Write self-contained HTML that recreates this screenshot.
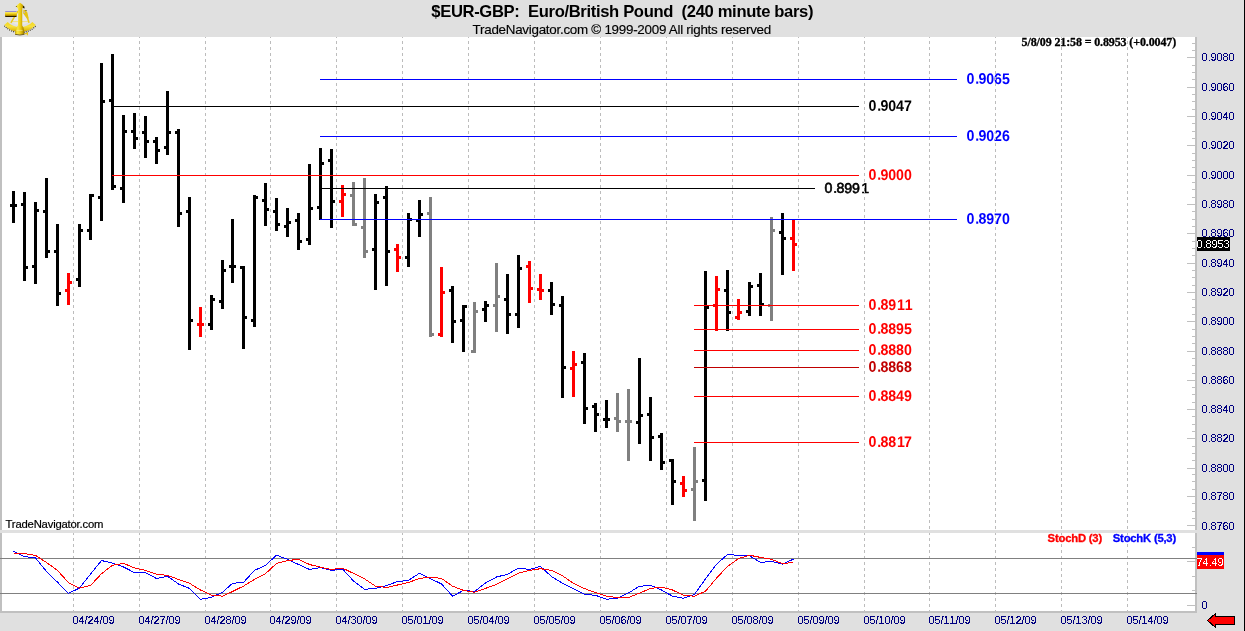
<!DOCTYPE html>
<html lang="en"><head><meta charset="utf-8"><title>$EUR-GBP: Euro/British Pound (240 minute bars)</title>
<style>
html,body{margin:0;padding:0;background:#e0e0e0;}
body{width:1245px;height:631px;overflow:hidden;position:relative;font-family:"Liberation Sans",Arial,sans-serif;}
svg{position:absolute;left:0;top:0;display:block;}
text{font-family:"Liberation Sans",Arial,sans-serif;}
.ce{shape-rendering:crispEdges;}
.ax{font-size:11px;fill:#000080;}
.lv{font-size:14.2px;font-weight:bold;}
</style></head><body>
<svg width="1245" height="631" viewBox="0 0 1245 631">
<defs><filter id="al" x="-2%" y="-20%" width="104%" height="140%" color-interpolation-filters="sRGB"><feComponentTransfer><feFuncA type="discrete" tableValues="0 0 1 1 1"/></feComponentTransfer></filter><filter id="al2" x="-2%" y="-20%" width="104%" height="140%" color-interpolation-filters="sRGB"><feComponentTransfer><feFuncA type="discrete" tableValues="0 1"/></feComponentTransfer></filter></defs>
<rect class="ce" x="0" y="0" width="1245" height="631" fill="#e0e0e0"/>
<g class="ce">
<rect x="0" y="37" width="1197" height="493" fill="#fff"/>
<rect x="0" y="533" width="1197" height="78" fill="#fff"/>
<rect x="0" y="37" width="2" height="493" fill="#c0c0c0"/>
<rect x="0" y="533" width="2" height="80" fill="#c0c0c0"/>
<rect x="1195" y="37" width="2" height="493" fill="#c0c0c0"/>
<rect x="1195" y="533" width="2" height="80" fill="#c0c0c0"/>
<rect x="0" y="611" width="1197" height="2" fill="#c0c0c0"/>
</g>
<g class="lv">
<text x="966.6 975.2 978.6 986.3 994.1 1002.0" y="83.9" fill="#0000ff" transform="matrix(1 0.002 0 1.078 0 -8.519)">0.9065</text>
<text x="868.6 877.2 880.6 888.3 896.1 904.0" y="110.9" fill="#000000" transform="matrix(1 0.002 0 1.078 0 -10.429)">0.9047</text>
<text x="966.6 975.2 978.6 986.3 994.1 1002.0" y="140.9" fill="#0000ff" transform="matrix(1 0.002 0 1.078 0 -12.965)">0.9026</text>
<text x="868.6 877.2 880.6 888.3 896.1 904.0" y="179.9" fill="#ff0000" transform="matrix(1 0.002 0 1.078 0 -15.811)">0.9000</text>
<text x="824.6 833.2 836.6 844.3 852.1 861.2" y="192.9" fill="#000000" stroke="#000000" stroke-width="0.6" font-weight="normal" transform="matrix(1 0.002 0 1.0 0 -1.691)">0.8991</text>
<text x="966.6 975.2 978.6 986.3 994.1 1002.0" y="223.9" fill="#0000ff" transform="matrix(1 0.002 0 1.078 0 -19.439)">0.8970</text>
<text x="868.6 877.2 880.6 888.3 896.9 904.8" y="309.9" fill="#ff0000" transform="matrix(1 0.002 0 1.078 0 -25.951)">0.8911</text>
<text x="868.6 877.2 880.6 888.3 896.1 904.0" y="333.9" fill="#ff0000" transform="matrix(1 0.002 0 1.078 0 -27.823)">0.8895</text>
<text x="868.6 877.2 880.6 888.3 896.1 904.0" y="354.9" fill="#ff0000" transform="matrix(1 0.002 0 1.078 0 -29.461)">0.8880</text>
<text x="868.6 877.2 880.6 888.3 896.1 904.0" y="371.9" fill="#c00000" transform="matrix(1 0.002 0 1.078 0 -30.787)">0.8868</text>
<text x="868.6 877.2 880.6 888.3 896.1 904.0" y="400.9" fill="#ff0000" transform="matrix(1 0.002 0 1.078 0 -33.049)">0.8849</text>
<text x="868.6 877.2 880.6 888.3 896.9 904.0" y="446.9" fill="#ff0000" transform="matrix(1 0.002 0 1.078 0 -36.637)">0.8817</text>
</g>
<g class="ce" stroke="#bcbcbc" stroke-width="1" stroke-dasharray="3 3" fill="none">
<line x1="73.5" y1="35" x2="73.5" y2="471" />
<line x1="73.5" y1="472" x2="73.5" y2="611" />
<line x1="139.5" y1="35" x2="139.5" y2="471" />
<line x1="139.5" y1="472" x2="139.5" y2="611" />
<line x1="205.5" y1="35" x2="205.5" y2="471" />
<line x1="205.5" y1="472" x2="205.5" y2="611" />
<line x1="270.5" y1="35" x2="270.5" y2="471" />
<line x1="270.5" y1="472" x2="270.5" y2="611" />
<line x1="336.5" y1="35" x2="336.5" y2="471" />
<line x1="336.5" y1="472" x2="336.5" y2="611" />
<line x1="402.5" y1="35" x2="402.5" y2="471" />
<line x1="402.5" y1="472" x2="402.5" y2="611" />
<line x1="468.5" y1="35" x2="468.5" y2="471" />
<line x1="468.5" y1="472" x2="468.5" y2="611" />
<line x1="534.5" y1="35" x2="534.5" y2="471" />
<line x1="534.5" y1="472" x2="534.5" y2="611" />
<line x1="600.5" y1="35" x2="600.5" y2="471" />
<line x1="600.5" y1="472" x2="600.5" y2="611" />
<line x1="666.5" y1="35" x2="666.5" y2="471" />
<line x1="666.5" y1="472" x2="666.5" y2="611" />
<line x1="732.5" y1="35" x2="732.5" y2="471" />
<line x1="732.5" y1="472" x2="732.5" y2="611" />
<line x1="798.5" y1="35" x2="798.5" y2="471" />
<line x1="798.5" y1="472" x2="798.5" y2="611" />
<line x1="864.5" y1="35" x2="864.5" y2="471" />
<line x1="864.5" y1="472" x2="864.5" y2="611" />
<line x1="929.5" y1="35" x2="929.5" y2="471" />
<line x1="929.5" y1="472" x2="929.5" y2="611" />
<line x1="995.5" y1="35" x2="995.5" y2="471" />
<line x1="995.5" y1="472" x2="995.5" y2="611" />
<line x1="1061.5" y1="35" x2="1061.5" y2="471" />
<line x1="1061.5" y1="472" x2="1061.5" y2="611" />
<line x1="1127.5" y1="35" x2="1127.5" y2="471" />
<line x1="1127.5" y1="472" x2="1127.5" y2="611" />
</g>
<rect class="ce" x="0" y="530" width="1245" height="3" fill="#e0e0e0"/>
<rect class="ce" x="0" y="0" width="1245" height="37" fill="#e0e0e0"/>
<g class="ce" fill="#c0c0c0">
<rect x="1192" y="43" width="3" height="1"/>
<rect x="1192" y="50" width="3" height="1"/>
<rect x="1187" y="57" width="8" height="1"/>
<rect x="1192" y="65" width="3" height="1"/>
<rect x="1192" y="72" width="3" height="1"/>
<rect x="1192" y="79" width="3" height="1"/>
<rect x="1187" y="87" width="8" height="1"/>
<rect x="1192" y="94" width="3" height="1"/>
<rect x="1192" y="101" width="3" height="1"/>
<rect x="1192" y="109" width="3" height="1"/>
<rect x="1187" y="116" width="8" height="1"/>
<rect x="1192" y="123" width="3" height="1"/>
<rect x="1192" y="131" width="3" height="1"/>
<rect x="1192" y="138" width="3" height="1"/>
<rect x="1187" y="145" width="8" height="1"/>
<rect x="1192" y="153" width="3" height="1"/>
<rect x="1192" y="160" width="3" height="1"/>
<rect x="1192" y="167" width="3" height="1"/>
<rect x="1187" y="175" width="8" height="1"/>
<rect x="1192" y="182" width="3" height="1"/>
<rect x="1192" y="189" width="3" height="1"/>
<rect x="1192" y="197" width="3" height="1"/>
<rect x="1187" y="204" width="8" height="1"/>
<rect x="1192" y="211" width="3" height="1"/>
<rect x="1192" y="219" width="3" height="1"/>
<rect x="1192" y="226" width="3" height="1"/>
<rect x="1187" y="233" width="8" height="1"/>
<rect x="1192" y="241" width="3" height="1"/>
<rect x="1192" y="248" width="3" height="1"/>
<rect x="1192" y="255" width="3" height="1"/>
<rect x="1187" y="263" width="8" height="1"/>
<rect x="1192" y="270" width="3" height="1"/>
<rect x="1192" y="277" width="3" height="1"/>
<rect x="1192" y="285" width="3" height="1"/>
<rect x="1187" y="292" width="8" height="1"/>
<rect x="1192" y="299" width="3" height="1"/>
<rect x="1192" y="307" width="3" height="1"/>
<rect x="1192" y="314" width="3" height="1"/>
<rect x="1187" y="321" width="8" height="1"/>
<rect x="1192" y="329" width="3" height="1"/>
<rect x="1192" y="336" width="3" height="1"/>
<rect x="1192" y="343" width="3" height="1"/>
<rect x="1187" y="351" width="8" height="1"/>
<rect x="1192" y="358" width="3" height="1"/>
<rect x="1192" y="365" width="3" height="1"/>
<rect x="1192" y="373" width="3" height="1"/>
<rect x="1187" y="380" width="8" height="1"/>
<rect x="1192" y="387" width="3" height="1"/>
<rect x="1192" y="394" width="3" height="1"/>
<rect x="1192" y="402" width="3" height="1"/>
<rect x="1187" y="409" width="8" height="1"/>
<rect x="1192" y="416" width="3" height="1"/>
<rect x="1192" y="424" width="3" height="1"/>
<rect x="1192" y="431" width="3" height="1"/>
<rect x="1187" y="438" width="8" height="1"/>
<rect x="1192" y="446" width="3" height="1"/>
<rect x="1192" y="453" width="3" height="1"/>
<rect x="1192" y="460" width="3" height="1"/>
<rect x="1187" y="468" width="8" height="1"/>
<rect x="1192" y="474" width="3" height="1"/>
<rect x="1192" y="481" width="3" height="1"/>
<rect x="1192" y="489" width="3" height="1"/>
<rect x="1187" y="496" width="8" height="1"/>
<rect x="1192" y="503" width="3" height="1"/>
<rect x="1192" y="511" width="3" height="1"/>
<rect x="1192" y="518" width="3" height="1"/>
<rect x="1187" y="525" width="8" height="1"/>
<rect x="1192" y="547" width="3" height="1"/>
<rect x="1187" y="561" width="8" height="1"/>
<rect x="1192" y="576" width="3" height="1"/>
<rect x="1192" y="590" width="3" height="1"/>
<rect x="1187" y="605" width="8" height="1"/>
</g>
<g class="ax" filter="url(#al)">
<text x="1201.50 1208.05 1210.50 1216.50 1222.50 1228.50" y="61">0.9080</text>
<text x="1201.50 1208.05 1210.50 1216.50 1222.50 1228.50" y="91">0.9060</text>
<text x="1201.50 1208.05 1210.50 1216.50 1222.50 1228.50" y="120">0.9040</text>
<text x="1201.50 1208.05 1210.50 1216.50 1222.50 1228.50" y="149">0.9020</text>
<text x="1201.50 1208.05 1210.50 1216.50 1222.50 1228.50" y="179">0.9000</text>
<text x="1201.50 1208.05 1210.50 1216.50 1222.50 1228.50" y="208">0.8980</text>
<text x="1201.50 1208.05 1210.50 1216.50 1222.50 1228.50" y="237">0.8960</text>
<text x="1201.50 1208.05 1210.50 1216.50 1222.50 1228.50" y="267">0.8940</text>
<text x="1201.50 1208.05 1210.50 1216.50 1222.50 1228.50" y="296">0.8920</text>
<text x="1201.50 1208.05 1210.50 1216.50 1222.50 1228.50" y="325">0.8900</text>
<text x="1201.50 1208.05 1210.50 1216.50 1222.50 1228.50" y="355">0.8880</text>
<text x="1201.50 1208.05 1210.50 1216.50 1222.50 1228.50" y="384">0.8860</text>
<text x="1201.50 1208.05 1210.50 1216.50 1222.50 1228.50" y="413">0.8840</text>
<text x="1201.50 1208.05 1210.50 1216.50 1222.50 1228.50" y="442">0.8820</text>
<text x="1201.50 1208.05 1210.50 1216.50 1222.50 1228.50" y="472">0.8800</text>
<text x="1201.50 1208.05 1210.50 1216.50 1222.50 1228.50" y="500">0.8780</text>
<text x="1201.50 1208.05 1210.50 1216.50 1222.50 1228.50" y="530">0.8760</text>
<text x="1201.50" y="609">0</text>
<text x="72.50 78.50 84.50 87.50 93.50 99.50 102.50 108.50" y="624">04/24/09</text>
<text x="138.50 144.50 150.50 153.50 159.50 165.50 168.50 174.50" y="624">04/27/09</text>
<text x="204.50 210.50 216.50 219.50 225.50 231.50 234.50 240.50" y="624">04/28/09</text>
<text x="269.50 275.50 281.50 284.50 290.50 296.50 299.50 305.50" y="624">04/29/09</text>
<text x="335.50 341.50 347.50 350.50 356.50 362.50 365.50 371.50" y="624">04/30/09</text>
<text x="401.50 407.50 413.50 416.50 422.50 428.50 431.50 437.50" y="624">05/01/09</text>
<text x="467.50 473.50 479.50 482.50 488.50 494.50 497.50 503.50" y="624">05/04/09</text>
<text x="533.50 539.50 545.50 548.50 554.50 560.50 563.50 569.50" y="624">05/05/09</text>
<text x="599.50 605.50 611.50 614.50 620.50 626.50 629.50 635.50" y="624">05/06/09</text>
<text x="665.50 671.50 677.50 680.50 686.50 692.50 695.50 701.50" y="624">05/07/09</text>
<text x="731.50 737.50 743.50 746.50 752.50 758.50 761.50 767.50" y="624">05/08/09</text>
<text x="797.50 803.50 809.50 812.50 818.50 824.50 827.50 833.50" y="624">05/09/09</text>
<text x="863.50 869.50 875.50 878.50 884.50 890.50 893.50 899.50" y="624">05/10/09</text>
<text x="928.50 934.50 940.50 943.50 949.50 955.50 958.50 964.50" y="624">05/11/09</text>
<text x="994.50 1000.50 1006.50 1009.50 1015.50 1021.50 1024.50 1030.50" y="624">05/12/09</text>
<text x="1060.50 1066.50 1072.50 1075.50 1081.50 1087.50 1090.50 1096.50" y="624">05/13/09</text>
<text x="1126.50 1132.50 1138.50 1141.50 1147.50 1153.50 1156.50 1162.50" y="624">05/14/09</text>
</g>
<g class="ce" fill="#808080">
<rect x="0" y="558" width="1197" height="1"/>
<rect x="0" y="593" width="1197" height="1"/>
</g>
<g class="ce">
<rect x="12" y="191" width="3" height="32" fill="#000000"/>
<rect x="10" y="204" width="2" height="3" fill="#000000"/>
<rect x="15" y="204" width="2" height="3" fill="#000000"/>
<rect x="23" y="192" width="3" height="89" fill="#000000"/>
<rect x="21" y="203" width="2" height="3" fill="#000000"/>
<rect x="26" y="266" width="2" height="3" fill="#000000"/>
<rect x="34" y="202" width="3" height="82" fill="#000000"/>
<rect x="32" y="265" width="2" height="3" fill="#000000"/>
<rect x="37" y="209" width="2" height="3" fill="#000000"/>
<rect x="45" y="178" width="3" height="80" fill="#000000"/>
<rect x="43" y="210" width="2" height="3" fill="#000000"/>
<rect x="48" y="250" width="2" height="3" fill="#000000"/>
<rect x="56" y="224" width="3" height="82" fill="#000000"/>
<rect x="54" y="250" width="2" height="3" fill="#000000"/>
<rect x="59" y="292" width="2" height="3" fill="#000000"/>
<rect x="67" y="273" width="3" height="32" fill="#ff0000"/>
<rect x="65" y="289" width="2" height="3" fill="#ff0000"/>
<rect x="70" y="281" width="2" height="3" fill="#ff0000"/>
<rect x="78" y="224" width="3" height="63" fill="#000000"/>
<rect x="76" y="278" width="2" height="3" fill="#000000"/>
<rect x="81" y="229" width="2" height="3" fill="#000000"/>
<rect x="89" y="194" width="3" height="46" fill="#000000"/>
<rect x="87" y="229" width="2" height="3" fill="#000000"/>
<rect x="92" y="194" width="2" height="3" fill="#000000"/>
<rect x="100" y="63" width="3" height="158" fill="#000000"/>
<rect x="98" y="196" width="2" height="3" fill="#000000"/>
<rect x="103" y="100" width="2" height="3" fill="#000000"/>
<rect x="111" y="54" width="3" height="136" fill="#000000"/>
<rect x="109" y="99" width="2" height="3" fill="#000000"/>
<rect x="114" y="185" width="2" height="3" fill="#000000"/>
<rect x="122" y="115" width="3" height="88" fill="#000000"/>
<rect x="120" y="187" width="2" height="3" fill="#000000"/>
<rect x="125" y="130" width="2" height="3" fill="#000000"/>
<rect x="133" y="113" width="3" height="36" fill="#000000"/>
<rect x="131" y="130" width="2" height="3" fill="#000000"/>
<rect x="136" y="137" width="2" height="3" fill="#000000"/>
<rect x="144" y="116" width="3" height="42" fill="#000000"/>
<rect x="142" y="131" width="2" height="3" fill="#000000"/>
<rect x="147" y="140" width="2" height="3" fill="#000000"/>
<rect x="155" y="137" width="3" height="27" fill="#000000"/>
<rect x="153" y="140" width="2" height="3" fill="#000000"/>
<rect x="158" y="149" width="2" height="3" fill="#000000"/>
<rect x="166" y="91" width="3" height="64" fill="#000000"/>
<rect x="164" y="146" width="2" height="3" fill="#000000"/>
<rect x="169" y="131" width="2" height="3" fill="#000000"/>
<rect x="177" y="129" width="3" height="98" fill="#000000"/>
<rect x="175" y="131" width="2" height="3" fill="#000000"/>
<rect x="180" y="212" width="2" height="3" fill="#000000"/>
<rect x="188" y="197" width="3" height="153" fill="#000000"/>
<rect x="186" y="210" width="2" height="3" fill="#000000"/>
<rect x="191" y="319" width="2" height="3" fill="#000000"/>
<rect x="199" y="307" width="3" height="30" fill="#ff0000"/>
<rect x="197" y="323" width="2" height="3" fill="#ff0000"/>
<rect x="202" y="323" width="2" height="3" fill="#ff0000"/>
<rect x="210" y="295" width="3" height="35" fill="#000000"/>
<rect x="208" y="323" width="2" height="3" fill="#000000"/>
<rect x="213" y="298" width="2" height="3" fill="#000000"/>
<rect x="221" y="260" width="3" height="49" fill="#000000"/>
<rect x="219" y="300" width="2" height="3" fill="#000000"/>
<rect x="224" y="269" width="2" height="3" fill="#000000"/>
<rect x="231" y="219" width="3" height="64" fill="#000000"/>
<rect x="229" y="265" width="2" height="3" fill="#000000"/>
<rect x="234" y="265" width="2" height="3" fill="#000000"/>
<rect x="242" y="266" width="3" height="83" fill="#000000"/>
<rect x="240" y="266" width="2" height="3" fill="#000000"/>
<rect x="245" y="316" width="2" height="3" fill="#000000"/>
<rect x="253" y="195" width="3" height="132" fill="#000000"/>
<rect x="251" y="319" width="2" height="3" fill="#000000"/>
<rect x="256" y="196" width="2" height="3" fill="#000000"/>
<rect x="264" y="183" width="3" height="43" fill="#000000"/>
<rect x="262" y="199" width="2" height="3" fill="#000000"/>
<rect x="267" y="208" width="2" height="3" fill="#000000"/>
<rect x="275" y="198" width="3" height="33" fill="#000000"/>
<rect x="273" y="210" width="2" height="3" fill="#000000"/>
<rect x="278" y="223" width="2" height="3" fill="#000000"/>
<rect x="286" y="208" width="3" height="29" fill="#000000"/>
<rect x="284" y="225" width="2" height="3" fill="#000000"/>
<rect x="289" y="221" width="2" height="3" fill="#000000"/>
<rect x="297" y="213" width="3" height="37" fill="#000000"/>
<rect x="295" y="219" width="2" height="3" fill="#000000"/>
<rect x="300" y="240" width="2" height="3" fill="#000000"/>
<rect x="308" y="164" width="3" height="81" fill="#000000"/>
<rect x="306" y="238" width="2" height="3" fill="#000000"/>
<rect x="311" y="207" width="2" height="3" fill="#000000"/>
<rect x="319" y="148" width="3" height="72" fill="#000000"/>
<rect x="317" y="206" width="2" height="3" fill="#000000"/>
<rect x="322" y="162" width="2" height="3" fill="#000000"/>
<rect x="330" y="149" width="3" height="79" fill="#000000"/>
<rect x="328" y="159" width="2" height="3" fill="#000000"/>
<rect x="333" y="200" width="2" height="3" fill="#000000"/>
<rect x="341" y="185" width="3" height="32" fill="#ff0000"/>
<rect x="339" y="200" width="2" height="3" fill="#ff0000"/>
<rect x="344" y="193" width="2" height="3" fill="#ff0000"/>
<rect x="352" y="182" width="3" height="44" fill="#808080"/>
<rect x="350" y="194" width="2" height="3" fill="#808080"/>
<rect x="355" y="223" width="2" height="3" fill="#808080"/>
<rect x="363" y="178" width="3" height="80" fill="#808080"/>
<rect x="361" y="226" width="2" height="3" fill="#808080"/>
<rect x="366" y="250" width="2" height="3" fill="#808080"/>
<rect x="374" y="194" width="3" height="96" fill="#000000"/>
<rect x="372" y="248" width="2" height="3" fill="#000000"/>
<rect x="377" y="201" width="2" height="3" fill="#000000"/>
<rect x="385" y="186" width="3" height="100" fill="#000000"/>
<rect x="383" y="196" width="2" height="3" fill="#000000"/>
<rect x="388" y="250" width="2" height="3" fill="#000000"/>
<rect x="396" y="244" width="3" height="28" fill="#ff0000"/>
<rect x="394" y="248" width="2" height="3" fill="#ff0000"/>
<rect x="399" y="256" width="2" height="3" fill="#ff0000"/>
<rect x="407" y="213" width="3" height="54" fill="#000000"/>
<rect x="405" y="256" width="2" height="3" fill="#000000"/>
<rect x="410" y="218" width="2" height="3" fill="#000000"/>
<rect x="418" y="200" width="3" height="37" fill="#000000"/>
<rect x="416" y="219" width="2" height="3" fill="#000000"/>
<rect x="421" y="213" width="2" height="3" fill="#000000"/>
<rect x="429" y="197" width="3" height="140" fill="#808080"/>
<rect x="427" y="212" width="2" height="3" fill="#808080"/>
<rect x="432" y="333" width="2" height="3" fill="#808080"/>
<rect x="440" y="267" width="3" height="70" fill="#ff0000"/>
<rect x="438" y="333" width="2" height="3" fill="#ff0000"/>
<rect x="443" y="291" width="2" height="3" fill="#ff0000"/>
<rect x="451" y="286" width="3" height="57" fill="#000000"/>
<rect x="449" y="289" width="2" height="3" fill="#000000"/>
<rect x="454" y="320" width="2" height="3" fill="#000000"/>
<rect x="462" y="305" width="3" height="47" fill="#000000"/>
<rect x="460" y="319" width="2" height="3" fill="#000000"/>
<rect x="465" y="305" width="2" height="3" fill="#000000"/>
<rect x="473" y="302" width="3" height="51" fill="#808080"/>
<rect x="471" y="350" width="2" height="3" fill="#808080"/>
<rect x="476" y="310" width="2" height="3" fill="#808080"/>
<rect x="484" y="301" width="3" height="21" fill="#000000"/>
<rect x="482" y="308" width="2" height="3" fill="#000000"/>
<rect x="487" y="304" width="2" height="3" fill="#000000"/>
<rect x="495" y="263" width="3" height="69" fill="#808080"/>
<rect x="493" y="304" width="2" height="3" fill="#808080"/>
<rect x="498" y="295" width="2" height="3" fill="#808080"/>
<rect x="506" y="274" width="3" height="60" fill="#000000"/>
<rect x="504" y="298" width="2" height="3" fill="#000000"/>
<rect x="509" y="313" width="2" height="3" fill="#000000"/>
<rect x="517" y="255" width="3" height="73" fill="#000000"/>
<rect x="515" y="313" width="2" height="3" fill="#000000"/>
<rect x="520" y="267" width="2" height="3" fill="#000000"/>
<rect x="528" y="261" width="3" height="42" fill="#ff0000"/>
<rect x="526" y="265" width="2" height="3" fill="#ff0000"/>
<rect x="531" y="287" width="2" height="3" fill="#ff0000"/>
<rect x="539" y="274" width="3" height="26" fill="#ff0000"/>
<rect x="537" y="288" width="2" height="3" fill="#ff0000"/>
<rect x="542" y="289" width="2" height="3" fill="#ff0000"/>
<rect x="550" y="282" width="3" height="33" fill="#000000"/>
<rect x="548" y="289" width="2" height="3" fill="#000000"/>
<rect x="553" y="303" width="2" height="3" fill="#000000"/>
<rect x="561" y="296" width="3" height="102" fill="#000000"/>
<rect x="559" y="304" width="2" height="3" fill="#000000"/>
<rect x="564" y="366" width="2" height="3" fill="#000000"/>
<rect x="572" y="351" width="3" height="46" fill="#ff0000"/>
<rect x="570" y="367" width="2" height="3" fill="#ff0000"/>
<rect x="575" y="363" width="2" height="3" fill="#ff0000"/>
<rect x="583" y="353" width="3" height="71" fill="#000000"/>
<rect x="581" y="361" width="2" height="3" fill="#000000"/>
<rect x="586" y="407" width="2" height="3" fill="#000000"/>
<rect x="594" y="403" width="3" height="29" fill="#000000"/>
<rect x="592" y="405" width="2" height="3" fill="#000000"/>
<rect x="597" y="413" width="2" height="3" fill="#000000"/>
<rect x="605" y="400" width="3" height="28" fill="#000000"/>
<rect x="603" y="418" width="2" height="3" fill="#000000"/>
<rect x="608" y="418" width="2" height="3" fill="#000000"/>
<rect x="616" y="393" width="3" height="39" fill="#808080"/>
<rect x="614" y="417" width="2" height="3" fill="#808080"/>
<rect x="619" y="420" width="2" height="3" fill="#808080"/>
<rect x="627" y="389" width="3" height="72" fill="#808080"/>
<rect x="625" y="420" width="2" height="3" fill="#808080"/>
<rect x="630" y="420" width="2" height="3" fill="#808080"/>
<rect x="638" y="358" width="3" height="86" fill="#000000"/>
<rect x="636" y="421" width="2" height="3" fill="#000000"/>
<rect x="641" y="414" width="2" height="3" fill="#000000"/>
<rect x="649" y="397" width="3" height="64" fill="#000000"/>
<rect x="647" y="413" width="2" height="3" fill="#000000"/>
<rect x="652" y="436" width="2" height="3" fill="#000000"/>
<rect x="660" y="433" width="3" height="37" fill="#000000"/>
<rect x="658" y="435" width="2" height="3" fill="#000000"/>
<rect x="663" y="461" width="2" height="3" fill="#000000"/>
<rect x="671" y="459" width="3" height="46" fill="#000000"/>
<rect x="669" y="459" width="2" height="3" fill="#000000"/>
<rect x="674" y="480" width="2" height="3" fill="#000000"/>
<rect x="682" y="476" width="3" height="21" fill="#ff0000"/>
<rect x="680" y="482" width="2" height="3" fill="#ff0000"/>
<rect x="685" y="489" width="2" height="3" fill="#ff0000"/>
<rect x="693" y="447" width="3" height="74" fill="#808080"/>
<rect x="691" y="488" width="2" height="3" fill="#808080"/>
<rect x="696" y="480" width="2" height="3" fill="#808080"/>
<rect x="704" y="271" width="3" height="230" fill="#000000"/>
<rect x="702" y="479" width="2" height="3" fill="#000000"/>
<rect x="707" y="306" width="2" height="3" fill="#000000"/>
<rect x="715" y="276" width="3" height="55" fill="#ff0000"/>
<rect x="713" y="304" width="2" height="3" fill="#ff0000"/>
<rect x="718" y="288" width="2" height="3" fill="#ff0000"/>
<rect x="726" y="270" width="3" height="61" fill="#000000"/>
<rect x="724" y="289" width="2" height="3" fill="#000000"/>
<rect x="729" y="311" width="2" height="3" fill="#000000"/>
<rect x="737" y="299" width="3" height="21" fill="#ff0000"/>
<rect x="735" y="316" width="2" height="3" fill="#ff0000"/>
<rect x="740" y="311" width="2" height="3" fill="#ff0000"/>
<rect x="748" y="282" width="3" height="34" fill="#000000"/>
<rect x="746" y="310" width="2" height="3" fill="#000000"/>
<rect x="751" y="285" width="2" height="3" fill="#000000"/>
<rect x="759" y="273" width="3" height="43" fill="#000000"/>
<rect x="757" y="284" width="2" height="3" fill="#000000"/>
<rect x="762" y="303" width="2" height="3" fill="#000000"/>
<rect x="770" y="217" width="3" height="104" fill="#808080"/>
<rect x="768" y="304" width="2" height="3" fill="#808080"/>
<rect x="773" y="229" width="2" height="3" fill="#808080"/>
<rect x="781" y="213" width="3" height="62" fill="#000000"/>
<rect x="779" y="231" width="2" height="3" fill="#000000"/>
<rect x="784" y="237" width="2" height="3" fill="#000000"/>
<rect x="792" y="220" width="3" height="51" fill="#ff0000"/>
<rect x="790" y="237" width="2" height="3" fill="#ff0000"/>
<rect x="795" y="243" width="2" height="3" fill="#ff0000"/>
</g>
<g class="ce">
<rect x="320" y="79" width="637" height="1" fill="#0000ff"/>
<rect x="114" y="106" width="745" height="1" fill="#000000"/>
<rect x="320" y="136" width="637" height="1" fill="#0000ff"/>
<rect x="112" y="175" width="747" height="1" fill="#ff0000"/>
<rect x="321" y="188" width="494" height="1" fill="#000000"/>
<rect x="320" y="219" width="637" height="1" fill="#0000ff"/>
<rect x="694" y="305" width="165" height="1" fill="#ff0000"/>
<rect x="694" y="329" width="165" height="1" fill="#ff0000"/>
<rect x="694" y="350" width="165" height="1" fill="#ff0000"/>
<rect x="694" y="367" width="165" height="1" fill="#c00000"/>
<rect x="694" y="396" width="165" height="1" fill="#ff0000"/>
<rect x="694" y="442" width="165" height="1" fill="#ff0000"/>
</g>
<polyline points="13.5,551.2 24.5,556.6 35.5,558.0 46.5,571.4 57.5,582.2 68.5,593.4 79.5,588.0 90.5,574.2 101.5,560.5 112.5,563.2 123.5,567.0 134.5,572.6 145.5,572.6 156.5,578.5 167.5,576.2 178.5,584.0 189.5,588.4 200.5,599.3 211.5,597.3 222.5,592.3 232.5,583.3 243.5,582.4 254.5,570.4 265.5,565.3 276.5,555.2 287.5,559.3 298.5,564.5 309.5,569.5 320.5,567.6 331.5,570.4 342.5,569.0 353.5,581.0 364.5,589.3 375.5,588.4 386.5,585.5 397.5,581.6 408.5,580.3 419.5,573.2 430.5,578.8 441.5,583.9 452.5,596.2 463.5,590.4 474.5,591.5 485.5,583.0 496.5,577.0 507.5,574.3 518.5,568.1 529.5,569.5 540.5,566.4 551.5,576.5 562.5,583.3 573.5,588.9 584.5,594.3 595.5,595.3 606.5,599.3 617.5,598.2 628.5,592.9 639.5,586.3 650.5,585.3 661.5,590.0 672.5,596.2 683.5,598.2 694.5,594.5 705.5,578.8 716.5,564.2 727.5,554.4 738.5,555.4 749.5,555.7 760.5,562.5 771.5,561.4 782.5,564.2 793.5,559.1" fill="none" stroke="#0000ff" stroke-width="1" shape-rendering="crispEdges"/>
<polyline points="13.5,553.5 24.5,553.5 35.5,555.4 46.5,562.5 57.5,570.4 68.5,582.7 79.5,588.1 90.5,585.5 101.5,573.7 112.5,565.3 123.5,563.4 134.5,567.9 145.5,570.4 156.5,574.3 167.5,575.4 178.5,579.4 189.5,583.3 200.5,590.0 211.5,595.1 222.5,596.2 232.5,591.5 243.5,586.1 254.5,579.4 265.5,573.7 276.5,563.4 287.5,560.6 298.5,559.3 309.5,564.5 320.5,567.2 331.5,569.5 342.5,568.1 353.5,573.4 364.5,578.8 375.5,586.1 386.5,587.5 397.5,585.0 408.5,582.5 419.5,578.5 430.5,577.1 441.5,578.5 452.5,586.1 463.5,590.4 474.5,592.3 485.5,588.4 496.5,584.4 507.5,578.8 518.5,573.2 529.5,570.4 540.5,568.7 551.5,570.4 562.5,575.8 573.5,583.3 584.5,588.6 595.5,592.6 606.5,596.2 617.5,597.6 628.5,597.6 639.5,593.1 650.5,588.4 661.5,587.2 672.5,590.0 683.5,595.3 694.5,596.2 705.5,591.2 716.5,578.2 727.5,566.4 738.5,558.6 749.5,555.2 760.5,557.4 771.5,559.3 782.5,563.6 793.5,562.5" fill="none" stroke="#ff0000" stroke-width="1" shape-rendering="crispEdges"/>
<g class="ce">
<rect x="1197" y="237" width="33" height="14" fill="#000"/>
<rect x="1197" y="552" width="27" height="3" fill="#0000ff"/>
<rect x="1197" y="555" width="27" height="14" fill="#ff0000"/>
</g>
<text x="1196.50 1203.05 1205.50 1211.50 1217.50 1223.50" y="248" font-size="11" fill="#fff" filter="url(#al2)">0.8953</text>
<text x="1196.60 1202.60 1209.15 1211.60 1217.60" y="566" font-size="11" fill="#fff" filter="url(#al2)">74.49</text>
<text x="431.3" y="17" font-size="16.6" font-weight="bold" fill="#000" xml:space="preserve" textLength="382.2" lengthAdjust="spacing">$EUR-GBP:  Euro/British Pound  (240 minute bars)</text>
<text x="472.6" y="33.7" font-size="13.4" fill="#000" stroke="#000" stroke-width="0.15" textLength="298.6" lengthAdjust="spacing">TradeNavigator.com © 1999-2009 All rights reserved</text>
<text x="5.6" y="528.2" font-size="11.3" fill="#000" stroke="#000" stroke-width="0.2" textLength="97.8" lengthAdjust="spacing">TradeNavigator.com</text>
<text x="1021.6" y="46" font-size="12" font-weight="bold" fill="#000" stroke="#000" stroke-width="0.3" textLength="154.6" lengthAdjust="spacing" style="font-family:'Liberation Serif','Times New Roman',serif">5/8/09 21:58 = 0.8953 (+0.0047)</text>
<text x="1047.6" y="541.8" font-size="11.3" font-weight="bold" fill="#ff0000" stroke="#ff0000" stroke-width="0.3" textLength="54.6" lengthAdjust="spacing">StochD (3)</text>
<text x="1112.8" y="541.8" font-size="11.3" font-weight="bold" fill="#0000ff" stroke="#0000ff" stroke-width="0.3" textLength="63.4" lengthAdjust="spacing">StochK (5,3)</text>
<polygon points="1207.5,620.5 1215.5,613.5 1215.5,616.5 1234.5,616.5 1234.5,624.5 1215.5,624.5 1215.5,627.5" fill="#ff0000" stroke="#000" stroke-width="1" stroke-linejoin="miter" shape-rendering="crispEdges"/>
<rect class="ce" x="1244" y="0" width="1" height="631" fill="#000"/>
<defs>
<linearGradient id="gTel" x1="0" y1="0" x2="0" y2="1">
<stop offset="0" stop-color="#8f86d8"/><stop offset="0.17" stop-color="#9a90c8"/><stop offset="0.2" stop-color="#f6e878"/><stop offset="0.5" stop-color="#f0d010"/><stop offset="0.78" stop-color="#b08800"/><stop offset="0.86" stop-color="#2c2000"/><stop offset="1" stop-color="#1c1400"/>
</linearGradient>
<linearGradient id="gArm" x1="0" y1="0" x2="1" y2="0">
<stop offset="0" stop-color="#e0bc08"/><stop offset="0.3" stop-color="#f8e640"/><stop offset="0.62" stop-color="#e8c40c"/><stop offset="0.85" stop-color="#b89400"/><stop offset="1" stop-color="#6a5200"/>
</linearGradient>
<linearGradient id="gArc" x1="0" y1="0" x2="0" y2="1">
<stop offset="0" stop-color="#f2d620"/><stop offset="0.45" stop-color="#f6e040"/><stop offset="0.8" stop-color="#e4c010"/><stop offset="1" stop-color="#a88400"/>
</linearGradient>
</defs>
<g id="logo">
<path d="M11.4,22 L18.6,10 L21.6,10 L28.8,22 L24,24.6 L16,24.6 Z" fill="#f4f4ff" opacity="0.4"/>
<path d="M4.2,25.1 A21.6,21.6 0 0 0 35.8,25.1" fill="none" stroke="#1e1600" stroke-width="1.5" stroke-dasharray="1 1.1" opacity="0.8" transform="translate(0.2,0.6)"/>
<path d="M12.4,21.6 L28.2,21.6" stroke="#f0e070" stroke-width="0.9" fill="none"/>
<path d="M11.2,22.4 L17.6,11.6 M28.9,22.2 L27.4,17.6" stroke="#ecca18" stroke-width="1.5" fill="none" stroke-linecap="round"/>
<path d="M23.4,9.8 L25.6,10.2 L27.4,12.4 L28.6,18 L27.6,19.4 L25.4,16.4 L23.2,13.6 Z" fill="#e6c414"/>
<path d="M23.6,11.4 L24.8,11.6 L25,13.2 L23.8,12.6 Z" fill="#b0a8f4"/>
<path d="M25,9.9 L26.8,10.1 L26.6,10.9 L25.2,10.7 Z" fill="#7c6c30"/>
<path d="M4.2,25.1 L7.7,21.9 A16.8,16.8 0 0 0 32.3,21.9 L35.8,25.1 A21.6,21.6 0 0 1 4.2,25.1 Z" fill="url(#gArc)"/>
<rect x="5" y="10.9" width="11.8" height="6" rx="0.9" fill="url(#gTel)"/>
<path d="M20,2.7 L22.2,4.2 L23.8,6.3 L22.3,8.6 L22.2,25.6 L23.4,27.4 L24.5,33.9 Q20,35.4 14.9,33.9 L16.4,27.4 L18,25.6 L18.1,8.8 L16.2,6.3 L17.8,4.4 Z" fill="url(#gArm)"/>
<path d="M22.9,5.8 L24.4,6.6 L24.6,8.6 L23,8 Z" fill="#2a2000"/>
<path d="M15.8,6 L16.8,6.2 L16.9,7 L16,6.9 Z" fill="#5a4600"/>
<path d="M16.4,30.4 L22.6,30.4" stroke="#f8efa0" stroke-width="0.7" fill="none" opacity="0.85"/>
<path d="M24.6,33.6 L27.6,33.6 M27.5,32 L27.5,35.2" stroke="#e6c414" stroke-width="1.1" fill="none"/>
<path d="M15,34.3 Q20,35.7 24.5,34.3" stroke="#5c4600" stroke-width="0.8" fill="none"/>
</g>
</svg>
</body></html>
